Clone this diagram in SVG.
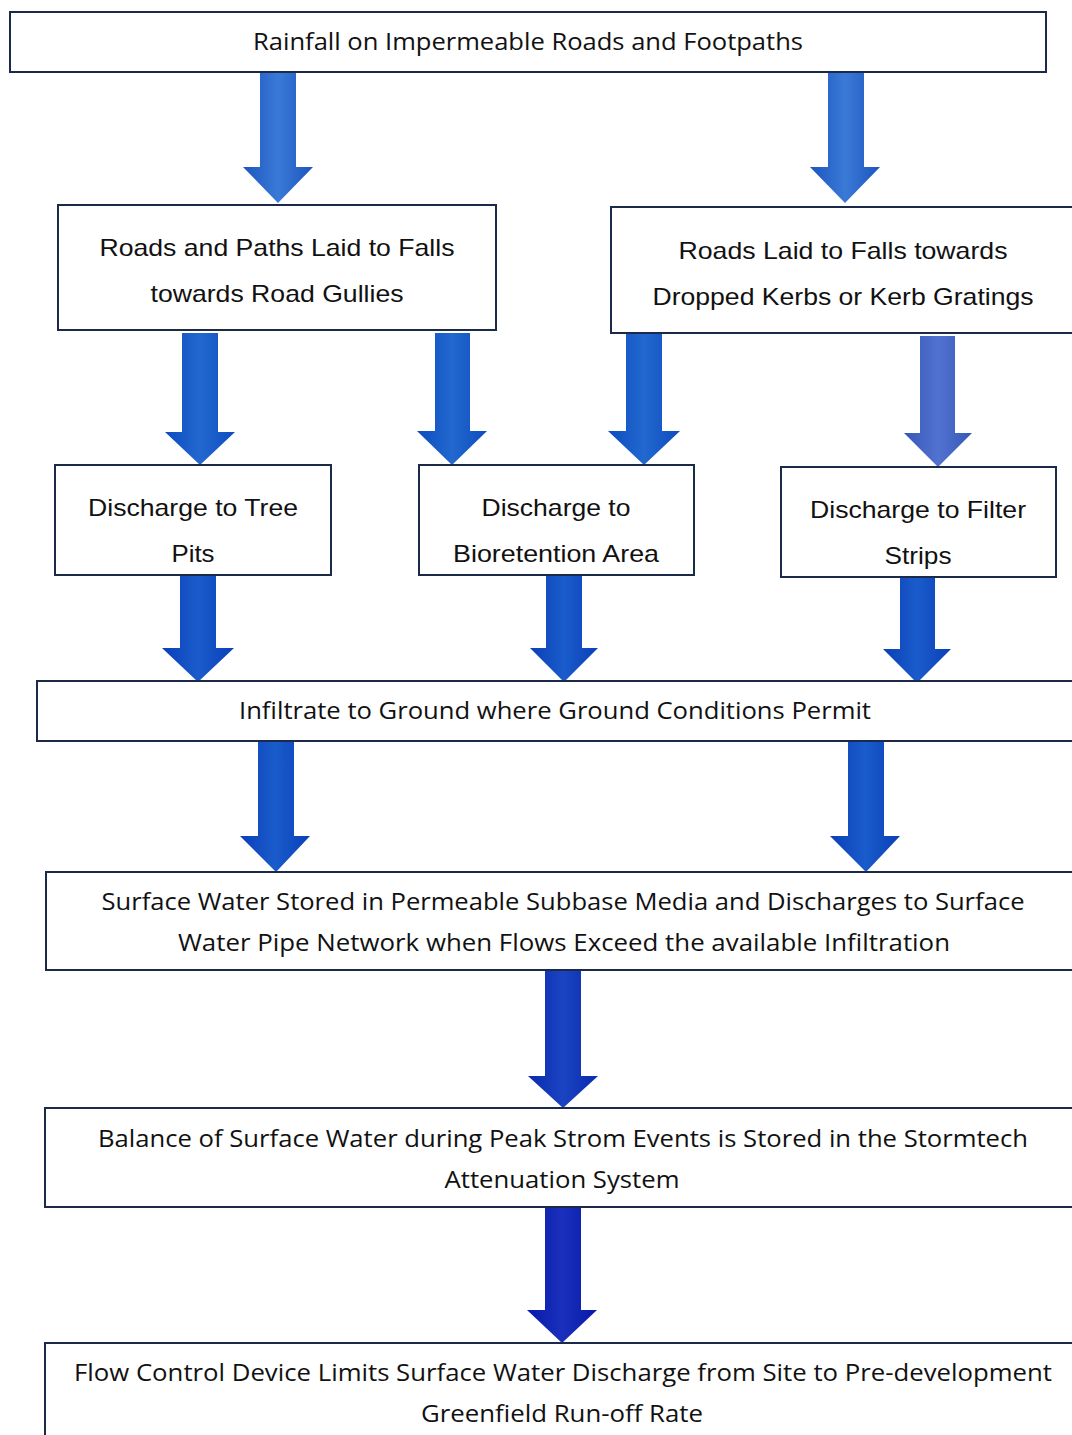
<svg xmlns="http://www.w3.org/2000/svg" width="1072" height="1435" viewBox="0 0 1072 1435">
<defs>
<linearGradient id="g1" x1="0" y1="0" x2="1" y2="0">
<stop offset="0" stop-color="#1c55c0"/><stop offset="0.5" stop-color="#3a7ad6"/><stop offset="1" stop-color="#1c55c0"/>
</linearGradient>
<linearGradient id="g2" x1="0" y1="0" x2="1" y2="0">
<stop offset="0" stop-color="#0d4cbf"/><stop offset="0.5" stop-color="#2268cf"/><stop offset="1" stop-color="#0d4cbf"/>
</linearGradient>
<linearGradient id="g3" x1="0" y1="0" x2="1" y2="0">
<stop offset="0" stop-color="#3558b8"/><stop offset="0.5" stop-color="#5272d0"/><stop offset="1" stop-color="#3558b8"/>
</linearGradient>
<linearGradient id="g4" x1="0" y1="0" x2="1" y2="0">
<stop offset="0" stop-color="#0b3fb8"/><stop offset="0.5" stop-color="#1a5ccb"/><stop offset="1" stop-color="#0b3fb8"/>
</linearGradient>
<linearGradient id="g5" x1="0" y1="0" x2="1" y2="0">
<stop offset="0" stop-color="#0a2aae"/><stop offset="0.5" stop-color="#1a44c2"/><stop offset="1" stop-color="#0a2aae"/>
</linearGradient>
<linearGradient id="g6" x1="0" y1="0" x2="1" y2="0">
<stop offset="0" stop-color="#0818a8"/><stop offset="0.5" stop-color="#1a30bd"/><stop offset="1" stop-color="#0818a8"/>
</linearGradient>
</defs>
<style>
.box{fill:#fff;stroke:#1b2a48;stroke-width:2}
.c{font-family:"Open Sans","Noto Sans",sans-serif;font-size:24px;fill:#111;text-anchor:middle}
.a{font-family:"Liberation Sans",Arial,sans-serif;font-size:24px;fill:#111;text-anchor:middle}
</style>
<rect width="1072" height="1435" fill="#fff"/>
<g id="connectors">
<path d="M260,72 H296 V167 H313 L278,203 L243,167 H260 Z" fill="url(#g1)"/>
<path d="M828,72 H864 V167 H880 L845,203 L810,167 H828 Z" fill="url(#g1)"/>
<path d="M182,333 H218 V432 H235 L200,465 L165,432 H182 Z" fill="url(#g2)"/>
<path d="M435,333 H470 V431 H487 L452,465 L417,431 H435 Z" fill="url(#g2)"/>
<path d="M626,333 H662 V431 H680 L644,465 L608,431 H626 Z" fill="url(#g2)"/>
<path d="M920,336 H955 V433 H972 L938,467 L904,433 H920 Z" fill="url(#g3)"/>
<path d="M180,575 H216 V648 H234 L198,682 L162,648 H180 Z" fill="url(#g4)"/>
<path d="M546,575 H582 V648 H598 L564,682 L530,648 H546 Z" fill="url(#g4)"/>
<path d="M900,577 H935 V649 H951 L917,683 L883,649 H900 Z" fill="url(#g4)"/>
<path d="M258,741 H294 V836 H310 L276,872 L240,836 H258 Z" fill="url(#g4)"/>
<path d="M848,741 H884 V836 H900 L866,872 L830,836 H848 Z" fill="url(#g4)"/>
<path d="M545,970 H581 V1076 H598 L563,1108 L528,1076 H545 Z" fill="url(#g5)"/>
<path d="M545,1207 H581 V1310 H597 L562,1343 L527,1310 H545 Z" fill="url(#g6)"/>
</g>
<g id="n1"><rect class="box" x="10" y="12" width="1036" height="60"/>
<text class="c" x="528" y="50" textLength="550" lengthAdjust="spacingAndGlyphs">Rainfall on Impermeable Roads and Footpaths</text></g>
<g id="n2"><rect class="box" x="58" y="205" width="438" height="125"/>
<text class="a" x="277" y="256" textLength="355" lengthAdjust="spacingAndGlyphs">Roads and Paths Laid to Falls</text>
<text class="a" x="277" y="302" textLength="253" lengthAdjust="spacingAndGlyphs">towards Road Gullies</text></g>
<g id="n3"><rect class="box" x="611" y="207" width="470" height="126"/>
<text class="a" x="843" y="259" textLength="329" lengthAdjust="spacingAndGlyphs">Roads Laid to Falls towards</text>
<text class="a" x="843" y="305" textLength="381" lengthAdjust="spacingAndGlyphs">Dropped Kerbs or Kerb Gratings</text></g>
<g id="n4"><rect class="box" x="55" y="465" width="276" height="110"/>
<text class="a" x="193" y="516" textLength="210" lengthAdjust="spacingAndGlyphs">Discharge to Tree</text>
<text class="a" x="193" y="562" textLength="43" lengthAdjust="spacingAndGlyphs">Pits</text></g>
<g id="n5"><rect class="box" x="419" y="465" width="275" height="110"/>
<text class="a" x="556" y="516" textLength="149" lengthAdjust="spacingAndGlyphs">Discharge to</text>
<text class="a" x="556" y="562" textLength="206" lengthAdjust="spacingAndGlyphs">Bioretention Area</text></g>
<g id="n6"><rect class="box" x="781" y="467" width="275" height="110"/>
<text class="a" x="918" y="518" textLength="216" lengthAdjust="spacingAndGlyphs">Discharge to Filter</text>
<text class="a" x="918" y="564" textLength="67" lengthAdjust="spacingAndGlyphs">Strips</text></g>
<g id="n7"><rect class="box" x="37" y="681" width="1045" height="60"/>
<text class="c" x="555" y="719" textLength="632" lengthAdjust="spacingAndGlyphs">Infiltrate to Ground where Ground Conditions Permit</text></g>
<g id="n8"><rect class="box" x="46" y="872" width="1036" height="98"/>
<text class="c" x="563" y="910" textLength="923" lengthAdjust="spacingAndGlyphs">Surface Water Stored in Permeable Subbase Media and Discharges to Surface</text>
<text class="c" x="564" y="951" textLength="772" lengthAdjust="spacingAndGlyphs">Water Pipe Network when Flows Exceed the available Infiltration</text></g>
<g id="n9"><rect class="box" x="45" y="1108" width="1037" height="99"/>
<text class="c" x="563" y="1147" textLength="930" lengthAdjust="spacingAndGlyphs">Balance of Surface Water during Peak Strom Events is Stored in the Stormtech</text>
<text class="c" x="562" y="1188" textLength="235" lengthAdjust="spacingAndGlyphs">Attenuation System</text></g>
<g id="n10"><rect class="box" x="45" y="1343" width="1037" height="110"/>
<text class="c" x="563" y="1381" textLength="978" lengthAdjust="spacingAndGlyphs">Flow Control Device Limits Surface Water Discharge from Site to Pre-development</text>
<text class="c" x="562" y="1422" textLength="282" lengthAdjust="spacingAndGlyphs">Greenfield Run-off Rate</text></g>
</svg>
